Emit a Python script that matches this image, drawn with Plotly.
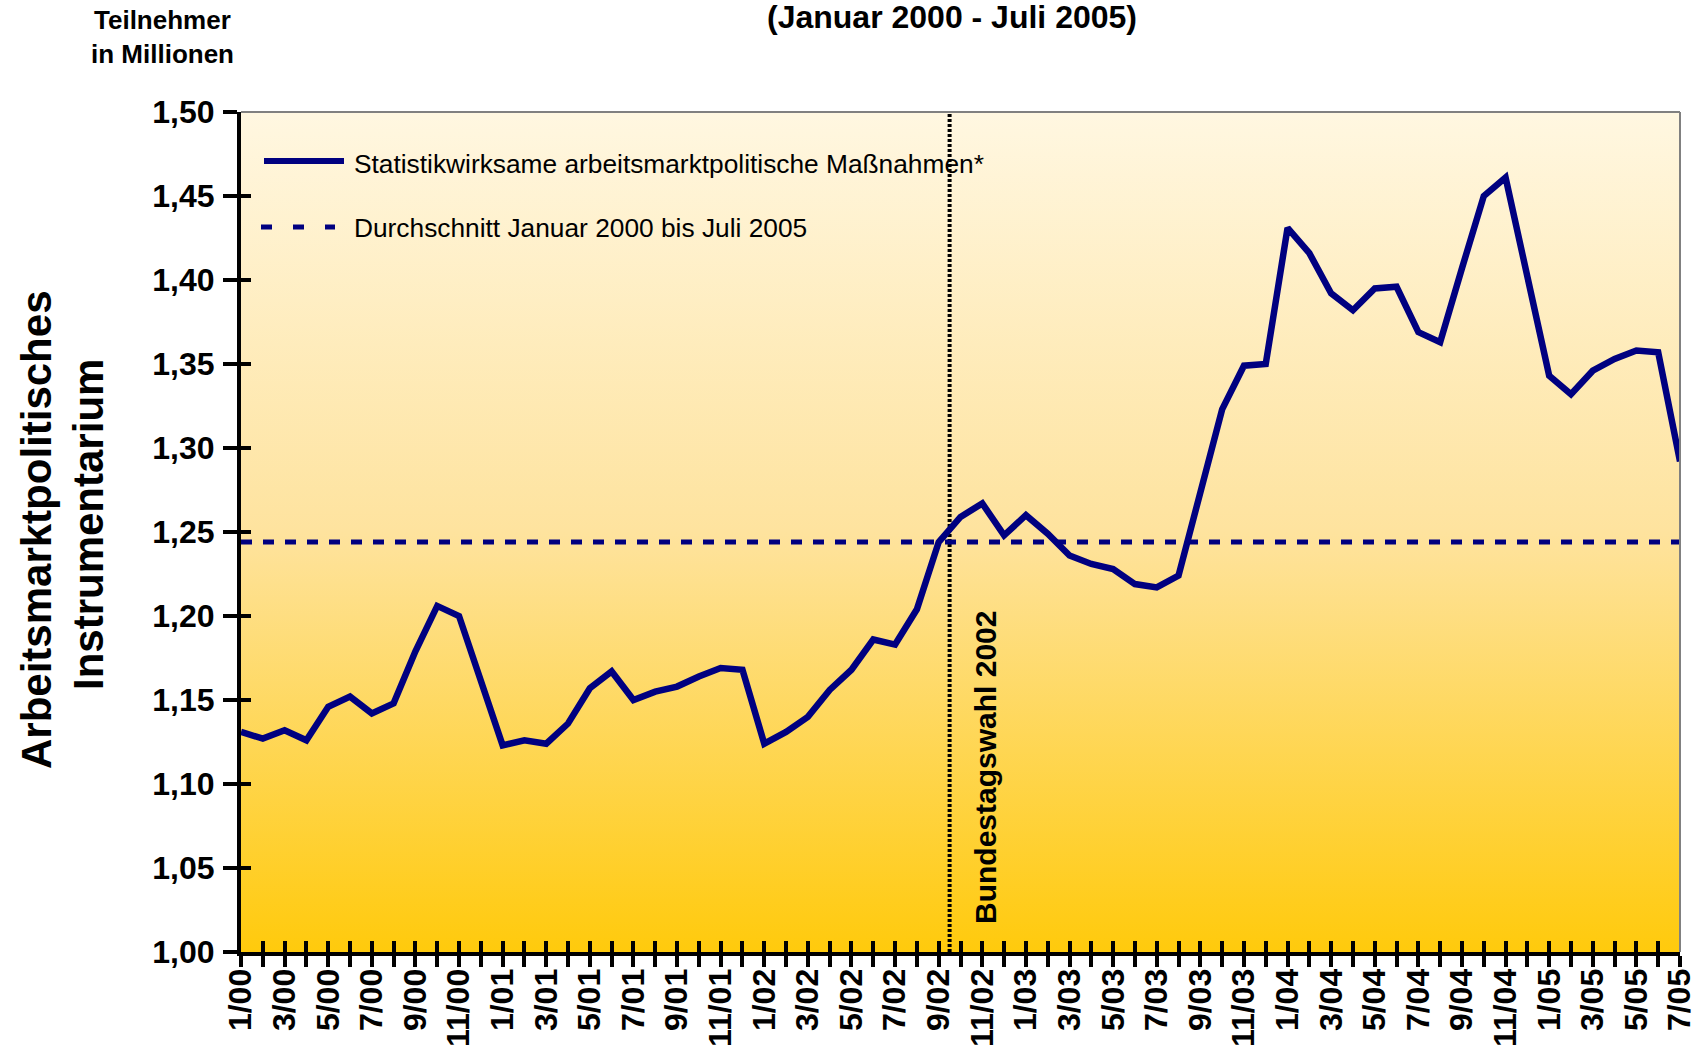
import base64
import plotly.graph_objects as go

# ---------------- data ----------------
values = [1.131, 1.127, 1.132, 1.126, 1.146, 1.152, 1.142, 1.148, 1.179, 1.206, 1.200, 1.160,
          1.123, 1.126, 1.124, 1.136, 1.157, 1.167, 1.150, 1.155, 1.158, 1.164, 1.169, 1.168,
          1.124, 1.131, 1.140, 1.156, 1.168, 1.186, 1.183, 1.204, 1.244, 1.259, 1.267, 1.248,
          1.260, 1.249, 1.236, 1.231, 1.228, 1.219, 1.217, 1.224, 1.275, 1.323, 1.349, 1.350,
          1.431, 1.416, 1.392, 1.382, 1.395, 1.396, 1.369, 1.363, 1.407, 1.450, 1.461, 1.402,
          1.343, 1.332, 1.346, 1.353, 1.358, 1.357, 1.292]
tick_labels = ["1/00", "3/00", "5/00", "7/00", "9/00", "11/00",
               "1/01", "3/01", "5/01", "7/01", "9/01", "11/01",
               "1/02", "3/02", "5/02", "7/02", "9/02", "11/02",
               "1/03", "3/03", "5/03", "7/03", "9/03", "11/03",
               "1/04", "3/04", "5/04", "7/04", "9/04", "11/04",
               "1/05", "3/05", "5/05", "7/05"]
average_value = 1.244
election_pos = 32.5          # month index of the Bundestagswahl (Sept 2002)
y_ticks = [1.00, 1.05, 1.10, 1.15, 1.20, 1.25, 1.30, 1.35, 1.40, 1.45, 1.50]

series_name = "Statistikwirksame arbeitsmarktpolitische Maßnahmen*"
avg_name = "Durchschnitt Januar 2000 bis Juli 2005"

# ---------------- layout geometry ----------------
W, H = 1697, 1048
L, R, T, B = 241, 1680, 112, 952
PW, PH = R - L, B - T


def px(xp):
    return (xp - L) / PW


def py(yp):
    return (B - yp) / PH


NAVY = "#000080"
FONT = "Liberation Sans, Arial, Helvetica, sans-serif"

x_idx = list(range(len(values)))
tickvals_all = x_idx
ticktext_all = [tick_labels[i // 2] if i % 2 == 0 else "" for i in x_idx]

fig = go.Figure()

# election marker line
fig.add_trace(go.Scatter(x=[election_pos, election_pos], y=[y_ticks[0], y_ticks[-1]],
                         mode="lines", line=dict(color="black", width=4, dash="3px,2px"),
                         showlegend=False, hoverinfo="skip"))
# average line
fig.add_trace(go.Scatter(x=[x_idx[0], x_idx[-1]], y=[average_value, average_value],
                         mode="lines", name=avg_name,
                         line=dict(color=NAVY, width=5, dash="11px,11px"),
                         showlegend=False))
# main series
fig.add_trace(go.Scatter(x=x_idx, y=values, mode="lines", name=series_name,
                         line=dict(color=NAVY, width=6.5), showlegend=False))
# invisible trace to activate overlay axes (inside ticks)
fig.add_trace(go.Scatter(x=[x_idx[0], x_idx[-1]], y=[y_ticks[0], y_ticks[-1]],
                         xaxis="x2", yaxis="y2", mode="lines", opacity=0,
                         showlegend=False, hoverinfo="skip"))

# gradient background as inline SVG
svg = ('<svg xmlns="http://www.w3.org/2000/svg" width="100" height="100" '
       'viewBox="0 0 100 100" preserveAspectRatio="none">'
       '<defs><linearGradient id="g" x1="0" y1="0" x2="0" y2="1">'
       '<stop offset="0" stop-color="#FFF7E1"/>'
       '<stop offset="0.5" stop-color="#FEE39E"/>'
       '<stop offset="1" stop-color="#FFCA0C"/>'
       '</linearGradient></defs>'
       '<rect x="0" y="0" width="100" height="100" fill="url(#g)"/></svg>')
svg_uri = "data:image/svg+xml;base64," + base64.b64encode(svg.encode()).decode()

tickfont = dict(family=FONT, size=32, color="black", weight="bold")

fig.update_layout(
    width=W, height=H,
    margin=dict(l=L, r=W - R, t=T, b=H - B, pad=0, autoexpand=False),
    paper_bgcolor="white",
    plot_bgcolor="rgba(0,0,0,0)",
    separators=",.",
    showlegend=False,
    images=[dict(source=svg_uri, xref="paper", yref="paper", x=0, y=1,
                 sizex=1, sizey=1, xanchor="left", yanchor="top",
                 sizing="stretch", layer="below")],
    xaxis=dict(range=[x_idx[0], x_idx[-1]], showgrid=False, zeroline=False, automargin=False,
               showline=True, linecolor="black", linewidth=4,
               tickmode="array", tickvals=tickvals_all, ticktext=ticktext_all,
               ticks="outside", ticklen=11, tickwidth=3.5, tickcolor="black",
               tickangle=-90, tickfont=tickfont, ticklabelstandoff=-11,
               ticklabeloverflow="allow"),
    yaxis=dict(range=[y_ticks[0], y_ticks[-1]], showgrid=False, zeroline=False, automargin=False,
               showline=True, linecolor="black", linewidth=4,
               tickmode="array", tickvals=y_ticks, tickformat=".2f",
               ticks="outside", ticklen=14, tickwidth=4, tickcolor="black",
               ticklabelstandoff=2, tickfont=tickfont, ticklabeloverflow="allow"),
    xaxis2=dict(range=[x_idx[0], x_idx[-1]], overlaying="x", anchor="y2", side="bottom",
                automargin=False,
                showgrid=False, zeroline=False, showline=False, showticklabels=False,
                tickmode="array", tickvals=tickvals_all,
                ticks="inside", ticklen=11, tickwidth=3.5, tickcolor="black"),
    yaxis2=dict(range=[y_ticks[0], y_ticks[-1]], overlaying="y", anchor="x2", side="left",
                automargin=False,
                showgrid=False, zeroline=False, showline=False, showticklabels=False,
                tickmode="array", tickvals=y_ticks,
                ticks="inside", ticklen=10, tickwidth=4, tickcolor="black"),
)

# top and right frame lines (thin gray)
fig.add_shape(type="line", xref="paper", yref="paper", x0=0, x1=1, y0=1, y1=1,
              line=dict(color="#808080", width=2))
fig.add_shape(type="line", xref="paper", yref="paper", x0=1, x1=1, y0=0, y1=1,
              line=dict(color="#808080", width=2))

# legend samples (drawn manually to match the original layout)
fig.add_shape(type="line", xref="paper", yref="paper", x0=px(264), x1=px(344),
              y0=py(161), y1=py(161), line=dict(color=NAVY, width=6))
fig.add_shape(type="line", xref="paper", yref="paper", x0=px(261), x1=px(335),
              y0=py(227), y1=py(227), line=dict(color=NAVY, width=5, dash="11px,21px"))

annos = [
    dict(text=series_name, x=px(352), y=py(164), xanchor="left", yanchor="middle",
         font=dict(family=FONT, size=26.3, color="black")),
    dict(text=avg_name, x=px(352), y=py(228), xanchor="left", yanchor="middle",
         font=dict(family=FONT, size=26.3, color="black")),
    dict(text="Bundestagswahl 2002", x=px(985), y=py(768), textangle=-90,
         xanchor="center", yanchor="middle",
         font=dict(family=FONT, size=30, color="black", weight="bold")),
    dict(text="Teilnehmer", x=px(162), y=py(20), xanchor="center", yanchor="middle",
         font=dict(family=FONT, size=26, color="black", weight="bold")),
    dict(text="in Millionen", x=px(162), y=py(54), xanchor="center", yanchor="middle",
         font=dict(family=FONT, size=26, color="black", weight="bold")),
    dict(text="(Januar 2000 - Juli 2005)", x=px(952), y=py(17), xanchor="center", yanchor="middle",
         font=dict(family=FONT, size=32, color="black", weight="bold")),
    dict(text="Arbeitsmarktpolitisches", x=px(36), y=py(530), textangle=-90,
         xanchor="center", yanchor="middle",
         font=dict(family=FONT, size=42, color="black", weight="bold")),
    dict(text="Instrumentarium", x=px(88), y=py(525), textangle=-90,
         xanchor="center", yanchor="middle",
         font=dict(family=FONT, size=42, color="black", weight="bold")),
]
for a in annos:
    a.update(xref="paper", yref="paper", showarrow=False)
    fig.add_annotation(**a)

fig.write_html("out.html", config={"displayModeBar": False},
               post_script="document.body.style.margin='0px';document.body.style.overflow='hidden';")
